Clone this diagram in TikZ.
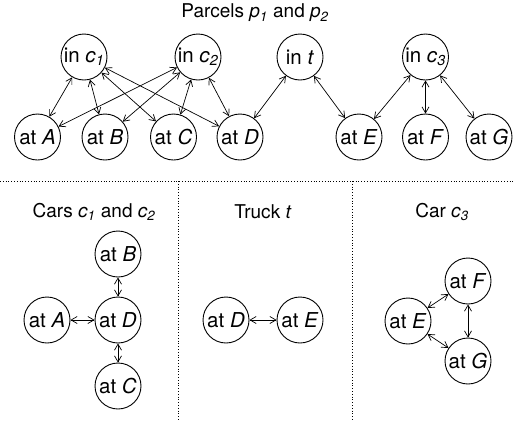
\documentclass[tikz,border=0pt]{standalone}
\usepackage{fontspec}
\setmainfont{TeX Gyre Heros}
\usetikzlibrary{arrows.meta}
\newcommand\mysub[1]{\textsubscript{\itshape #1}}
\begin{document}
\begin{tikzpicture}[x=1pt,y=-1pt,
  st/.style={draw, circle, line width=0.9pt, minimum size=46pt, inner sep=0pt, font=\fontsize{20.5}{22}\selectfont},
  lk/.style={{Straight Barb[length=6pt,width=7pt]}-{Straight Barb[length=6pt,width=7pt]}, line width=0.7pt},
  ttl/.style={font=\fontsize{19}{22}\selectfont},
  sep/.style={dotted, line width=0.8pt}]
\useasboundingbox (0,0) rectangle (513,421);
% top part
\node[ttl] (title) at (255,13) {Parcels \textit{p}\mysub{1} and \textit{p}\mysub{2}};
\node[st] (ic1) at (84,57) {in \textit{c}\mysub{1}};
\node[st] (ic2) at (198,57) {in \textit{c}\mysub{2}};
\node[st] (it) at (300,57) {in \textit{t}};
\node[st] (ic3) at (425.5,57) {in \textit{c}\mysub{3}};
\node[st] (aA) at (37.5,137) {at \textit{A}};
\node[st] (aB) at (105,137) {at \textit{B}};
\node[st] (aC) at (173.5,137) {at \textit{C}};
\node[st] (aD) at (240,137) {at \textit{D}};
\node[st] (aE) at (359,137) {at \textit{E}};
\node[st] (aF) at (425.5,137) {at \textit{F}};
\node[st] (aG) at (489,137) {at \textit{G}};
\foreach \a in {aA,aB,aC,aD} {
  \draw[lk] (ic1) -- (\a);
  \draw[lk] (ic2) -- (\a);
}
\draw[lk] (it) -- (aD);
\draw[lk] (it) -- (aE);
\draw[lk] (ic3) -- (aE);
\draw[lk] (ic3) -- (aF);
\draw[lk] (ic3) -- (aG);
% separators
\draw[sep] (0,181) -- (513,181);
\draw[sep] (178,181) -- (178,421);
\draw[sep] (352,181) -- (352,421);
% bottom titles
\node[ttl] (t1) at (94,212) {Cars \textit{c}\mysub{1} and \textit{c}\mysub{2}};
\node[ttl] (t2) at (263,212) {Truck \textit{t}};
\node[ttl] (t3) at (442,212) {Car \textit{c}\mysub{3}};
% cars c1 c2
\node[st] (bA) at (47,320) {at \textit{A}};
\node[st] (bD) at (118,320) {at \textit{D}};
\node[st] (bB) at (118,254) {at \textit{B}};
\node[st] (bC) at (118,386) {at \textit{C}};
\draw[lk] (bA) -- (bD);
\draw[lk] (bB) -- (bD);
\draw[lk] (bD) -- (bC);
% truck
\node[st] (tD) at (226,320) {at \textit{D}};
\node[st] (tE) at (300,320) {at \textit{E}};
\draw[lk] (tD) -- (tE);
% car c3
\node[st] (cE) at (408,321) {at \textit{E}};
\node[st] (cF) at (468,281) {at \textit{F}};
\node[st] (cG) at (468,361) {at \textit{G}};
\draw[lk] (cE) -- (cF);
\draw[lk] (cE) -- (cG);
\draw[lk] (cF) -- (cG);
\end{tikzpicture}
\end{document}
